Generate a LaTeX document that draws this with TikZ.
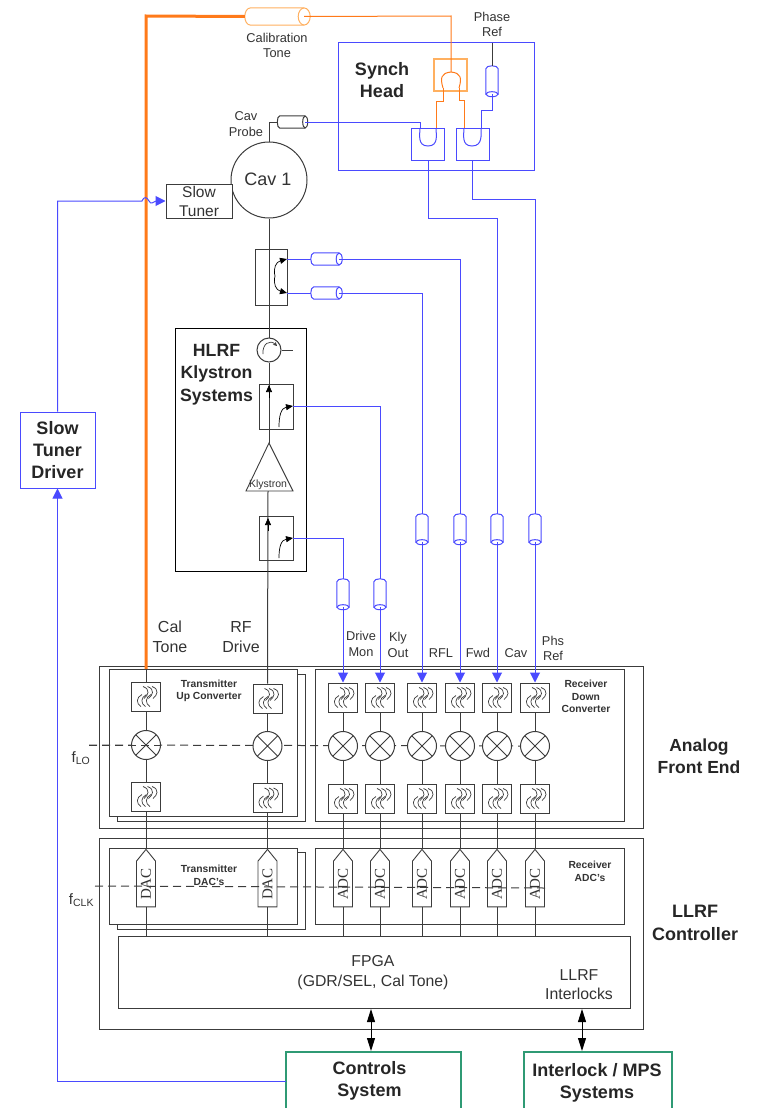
\documentclass[tikz,border=0pt]{standalone}
\usepackage{fontspec}
\setmainfont{Liberation Sans}
\newfontfamily\dacfont{Liberation Serif}
\usetikzlibrary{arrows.meta,shapes.geometric,shapes.symbols,calc}
\definecolor{ln}{HTML}{3C3C3C}
\definecolor{bl}{HTML}{4A4AFF}
\definecolor{og}{HTML}{FF7A1A}
\definecolor{ogl}{HTML}{FFB060}
\definecolor{tl}{HTML}{2F9A74}
\definecolor{tx}{HTML}{333333}
\tikzset{
  x=1pt,y=-1pt,
  wire/.style={draw=ln,line width=1pt},
  bwire/.style={draw=bl,line width=1pt},
  owire/.style={draw=og,line width=1pt},
  boxg/.style={draw=ln,line width=1pt},
  lab/.style={text=tx,font=\fontsize{12.8}{15}\selectfont,align=center,inner sep=0pt},
  hd/.style={text=black!85,font=\fontsize{18}{22}\bfseries\selectfont,align=center,inner sep=0pt},
  tiny/.style={text=tx,font=\fontsize{10.3}{12.5}\bfseries\selectfont,align=center,inner sep=0pt},
  filt/.style={rectangle,draw=ln,line width=1pt,fill=white,minimum width=29pt,minimum height=29pt,inner sep=0pt,
    path picture={\begin{scope}[shift={(path picture bounding box.center)}]
      \foreach \d in {-3,1.5,6}{\draw[ln,line width=0.7pt] (\d,-10) .. controls (\d+8,-7) and (\d+5,-1) .. (\d+1,2);}
      \foreach \d in {-3,1.5,6}{\draw[ln,line width=0.7pt] (\d-1,-2) .. controls (\d-7,1) and (\d-7,7) .. (\d-2,10);}
    \end{scope}}},
  mixer/.style={circle,draw=ln,line width=1pt,fill=white,minimum size=29pt,inner sep=0pt,
    path picture={\draw[ln,line width=0.9pt] (path picture bounding box.north west)--(path picture bounding box.south east)
      (path picture bounding box.north east)--(path picture bounding box.south west);}},
  conv/.style={signal,signal to=north,signal pointer angle=78,draw=ln,line width=0.9pt,fill=white,minimum width=19pt,minimum height=52pt,inner sep=0pt,text=tx,font=\dacfont\fontsize{15}{15}\selectfont},
  cablebody/.style={rectangle,inner sep=0pt,draw=none},
  tip/.style={-{Triangle[length=7pt,width=6pt]}},
  btip/.style={-{Triangle[length=10pt,width=10pt]}},
  dbl/.style={{Triangle[length=13pt,width=8pt]}-{Triangle[length=13pt,width=8pt]}},
}
% horizontal cable: name, centre x, y, length, height, end radius, colour
\newcommand{\hcab}[7]{%
  \node[cablebody,minimum width=#4pt,minimum height=#5pt] (#1) at (#2,#3) {};
  \coordinate (#1-in) at ($(#1.west)+(-#6,0)$);
  \coordinate (#1-out) at (#1.east);
  \draw[draw=#7,fill=white,line width=1pt] (#1.north east)--(#1.north west) .. controls +(-1.33*#6,0) and +(-1.33*#6,0) .. (#1.south west)--(#1.south east);
  \draw[draw=#7,fill=white,line width=1pt] (#1.east) ellipse [x radius=#6,y radius=#5/2];
}
% vertical cable: name, x, centre y, colour
\newcommand{\vcab}[4]{%
  \node[cablebody,minimum width=12pt,minimum height=25pt] (#1) at (#2,#3) {};
  \coordinate (#1-in) at ($(#1.north)+(0,-3)$);
  \coordinate (#1-out) at (#1.south);
  \draw[draw=#4,fill=white,line width=1pt] (#1.north west)--(#1.south west)--(#1.south east)--(#1.north east) .. controls +(0,-4) and +(0,-4) .. (#1.north west);
  \draw[draw=#4,fill=white,line width=1pt] (#1.south) ellipse [x radius=6,y radius=2.5];
}
\begin{document}
\begin{tikzpicture}
\useasboundingbox (0,0) rectangle (759,1108);
% ---- containers
\node[boxg,rectangle,minimum width=544pt,minimum height=162pt,inner sep=0pt] (afe) at (371,747) {};
\node[boxg,rectangle,minimum width=544pt,minimum height=191pt,inner sep=0pt] (llrf) at (371,933.5) {};
\node[boxg,fill=white,rectangle,minimum width=188pt,minimum height=147pt,inner sep=0pt] (txb) at (211,747.5) {};
\node[boxg,fill=white,rectangle,minimum width=188pt,minimum height=147pt,inner sep=0pt] (txf) at (203,742.5) {};
\node[boxg,rectangle,minimum width=309pt,minimum height=152pt,inner sep=0pt] (rxf) at (469.5,745) {};
\node[boxg,fill=white,rectangle,minimum width=188pt,minimum height=77pt,inner sep=0pt] (dacb) at (211,890.5) {};
\node[boxg,fill=white,rectangle,minimum width=188pt,minimum height=76pt,inner sep=0pt] (dacf) at (203,886) {};
\node[boxg,rectangle,minimum width=309pt,minimum height=76pt,inner sep=0pt] (adcf) at (469.5,886) {};
\node[boxg,rectangle,minimum width=512pt,minimum height=72pt,inner sep=0pt] (fpga) at (374,972) {};
\node[draw=black,line width=0.9pt,rectangle,minimum width=131pt,minimum height=243pt,inner sep=0pt] (hlrf) at (240.5,449.5) {};
\node[draw=bl,line width=1pt,rectangle,minimum width=196pt,minimum height=127pt,inner sep=0pt] (synch) at (436,106.5) {};
% ---- dashed LO and CLK
\coordinate (lo0) at (89,745);
\coordinate (clk0) at (95,886);
\coordinate (clk1) at (545,888);
\coordinate (lo1) at (520,746);
\draw[ln,line width=1pt,dash pattern=on 8pt off 5pt] (lo0)--(lo1);
% ---- front-end columns
\node[filt] (ft1) at (146,696.5) {};
\node[mixer] (mx1) at (146,745) {};
\node[filt] (fb1) at (146,796.5) {};
\node[filt] (ft2) at (267.5,698.5) {};
\node[mixer] (mx2) at (267.5,746) {};
\node[filt] (fb2) at (267.5,798) {};
\node[conv] (d1) at (146,884) {\rotatebox{90}{DAC}};
\node[conv] (d2) at (267.5,884) {\rotatebox{90}{DAC}};
\foreach \i/\xx in {1/343,2/380,3/422,4/460,5/497,6/535}{
  \node[filt] (rt\i) at (\xx,697.5) {};
  \node[mixer] (rm\i) at (\xx,746) {};
  \node[filt] (rb\i) at (\xx,798.5) {};
  \node[conv] (a\i) at (\xx,884) {\rotatebox{90}{ADC}};
  \draw[wire] (rt\i)--(rm\i);
  \draw[wire] (rm\i)--(rb\i);
  \draw[wire] (rb\i)--(a\i.north);
  \draw[wire] (a\i.south)--(\xx,936);
}
\draw[wire] (ft1)--(mx1);
\draw[wire] (mx1)--(fb1);
\draw[wire] (fb1)--(d1.north);
\draw[wire] (d1.south)--(146,936);
\draw[wire] (ft2)--(mx2);
\draw[wire] (mx2)--(fb2);
\draw[wire] (fb2)--(d2.north);
\draw[wire] (d2.south)--(267.5,936);
\draw[ln,line width=1pt,dash pattern=on 8pt off 5pt] (clk0)--(clk1);
\draw[ln,line width=1pt,dash pattern=on 8pt off 5pt] (lo0)--(mx1.east);
% ---- cavity
\node[circle,draw=ln,line width=1pt,minimum size=76pt,inner sep=0pt] (cav) at (269,180) {};
\node[text=tx,font=\fontsize{18}{20}\selectfont,inner sep=0pt] (cavt) at (268,179) {Cav 1};
\node[rectangle,draw=ln,line width=1pt,fill=white,minimum width=66pt,minimum height=34pt,inner sep=0pt,lab,font=\fontsize{15.5}{19}\selectfont] (tuner) at (199,201) {Slow\\Tuner};
\hcab{probe}{292.5}{122}{25}{12}{2.5}{ln}
\coordinate (pb) at (269,122);
\draw[wire] (cav.north)--(pb)--(probe-in);
% ---- main RF line
\node[boxg,rectangle,minimum width=32pt,minimum height=56pt,inner sep=0pt] (dc) at (271,277) {};
\node[circle,draw=ln,line width=1pt,fill=white,minimum size=24pt,inner sep=0pt] (circ) at (269,350) {};
\coordinate (stub) at (293,350);
\node[boxg,rectangle,minimum width=34pt,minimum height=45pt,inner sep=0pt] (c1) at (276,406.5) {};
\node[boxg,rectangle,minimum width=34pt,minimum height=44pt,inner sep=0pt] (c2) at (276,538) {};
\coordinate (kA) at (269,443);
\coordinate (kL) at (246,491);
\coordinate (kR) at (293,491);
\draw[ln,line width=0.9pt] (kA)--(kL)--(kR)--cycle;
\node[text=tx,font=\fontsize{10.5}{11}\selectfont,inner sep=0pt] (kly) at (268,485) {Klystron};
\draw[wire] (cav.south)--(circ.north);
\draw[wire] (circ.south)--(kA);
\draw[wire] (268,491)--(ft2.north);
\draw[wire] (circ.east)--(stub);
\draw[ln,line width=0.7pt,-{Stealth[length=4pt,width=4pt]}] (263,354) .. controls (262,344) and (270,339) .. (277,346);
% coupler details
\coordinate (dcA) at (287,259);
\coordinate (dcB) at (287,293);
\coordinate (c1o) at (293,406);
\coordinate (c2o) at (293,538);
\draw[black,line width=0.7pt,tip] (275,276) .. controls (273,268) and (276,262) .. (dcA);
\draw[black,line width=0.7pt,tip] (275,276) .. controls (273,284) and (276,290) .. (dcB);
\draw[black,line width=0.7pt,tip] (279,427) .. controls (279,416) and (281,408) .. (c1o);
\draw[black,line width=0.7pt,tip] (279,558) .. controls (279,547) and (281,540) .. (c2o);
\draw[black,line width=0.7pt,tip] (269,398)--(269,385);
\draw[black,line width=0.7pt,tip] (268,531)--(268,518);
% ---- cables
\hcab{cal}{277.5}{16.5}{53}{17}{6}{ogl}
\hcab{cA}{326.5}{259}{25}{12}{3}{bl}
\hcab{cB}{326.5}{293}{25}{12}{3}{bl}
\vcab{vPhase}{492}{81.5}{bl}
\vcab{vDrive}{343}{594.5}{bl}
\vcab{vKly}{380}{594.5}{bl}
\vcab{vRfl}{422}{529.5}{bl}
\vcab{vFwd}{460}{529.5}{bl}
\vcab{vCav}{497}{529.5}{bl}
\vcab{vPhs}{535}{529.5}{bl}
% ---- synch head mixers
\node[draw=ogl,line width=1.1pt,rectangle,minimum width=33pt,minimum height=32pt,inner sep=0pt] (mO) at (450.5,75) {};
\node[draw=bl,line width=1pt,rectangle,minimum width=33pt,minimum height=32pt,inner sep=0pt] (mL) at (428,144) {};
\node[draw=bl,line width=1pt,rectangle,minimum width=33pt,minimum height=32pt,inner sep=0pt] (mR) at (472.5,144) {};
\coordinate (calTop) at (451,16);
\coordinate (oTop) at (451,72);
\draw[owire] (cal-out)--(calTop)--(oTop);
\draw[owire] (443,88) .. controls (440,78) and (441,73) .. (oTop) .. controls (461,73) and (462,78) .. (459,88);
\draw[owire] (443,88)--(443,101)--(436,101)--(436,128);
\draw[owire] (459,88)--(459,100)--(464,100)--(464,128);
\draw[bwire] (420,128) .. controls (420,134) and (417,146) .. (428,146) .. controls (439,146) and (436,134) .. (436,128);
\draw[bwire] (464,128) .. controls (464,134) and (461,146) .. (472,146) .. controls (483,146) and (481,134) .. (481,128);
\draw[bwire] (probe-out)--(420,122)--(420,128);
\coordinate (phaseTop) at (492,43);
\draw[wire] (phaseTop)--(vPhase-in);
\draw[bwire] (vPhase-out)--(492,110)--(481,110)--(481,128);
% ---- orange cal tone
\coordinate (orCorner) at (146,16);
\coordinate (orEnd) at (146,669);
\draw[draw=og,line width=3pt] (cal-in)--(orCorner)--(orEnd);
\draw[wire] (orEnd)--(ft1.north);
% ---- blue monitor lines
\draw[bwire] (cA-out)--(460,259)--(vFwd-in);
\draw[bwire] (cB-out)--(422,293)--(vRfl-in);
\draw[bwire] (dcA)--(cA-in);
\draw[bwire] (dcB)--(cB-in);
\draw[bwire] (c1o)--(380,406)--(vKly-in);
\draw[bwire] (c2o)--(343,538)--(vDrive-in);
\draw[bwire] (428,160)--(428,218)--(497,218)--(vCav-in);
\draw[bwire] (472,160)--(472,199)--(535,199)--(vPhs-in);
\draw[bwire,btip] (vDrive-out)--(rt1.north);
\draw[bwire,btip] (vKly-out)--(rt2.north);
\draw[bwire,btip] (vRfl-out)--(rt3.north);
\draw[bwire,btip] (vFwd-out)--(rt4.north);
\draw[bwire,btip] (vCav-out)--(rt5.north);
\draw[bwire,btip] (vPhs-out)--(rt6.north);
% ---- slow tuner driver
\node[draw=bl,line width=1pt,rectangle,minimum width=75pt,minimum height=76pt,inner sep=0pt,text=black!85,font=\fontsize{18}{22}\bfseries\selectfont,align=center] (drv) at (57.5,450) {Slow\\Tuner\\Driver};
\coordinate (wig) at (142,201);
\draw[bwire,btip] (drv.north)--(57.5,201)--(wig) .. controls (144,196) and (147,197) .. (149,201) .. controls (151,205) and (153,202) .. (156,201) -- (tuner.west);
% ---- bottom systems
\node[rectangle,minimum width=175pt,minimum height=56pt,inner sep=0pt] (ctl) at (373.5,1080) {};
\node[rectangle,minimum width=148pt,minimum height=56pt,inner sep=0pt] (mps) at (598,1080) {};
\node[hd] (tCs) at (369.5,1081) {Controls\\System};
\node[hd] (tMs) at (597,1083) {Interlock / MPS\\Systems};
\draw[tl,line width=2.4pt] (ctl.south west)--(ctl.north west)--(ctl.north east)--(ctl.south east);
\draw[tl,line width=2.4pt] (mps.south west)--(mps.north west)--(mps.north east)--(mps.south east);
\draw[bwire,btip] (ctl.west |- 0,1081)--(57.5,1081)--(drv.south);
\draw[black,line width=0.9pt,dbl] (371,1051)--(371,1009);
\draw[black,line width=0.9pt,dbl] (582,1051)--(582,1009);
% ---- labels
\node[lab] (tCal) at (277,45.5) {Calibration\\Tone};
\node[lab] (tPh) at (492,24.5) {Phase\\Ref};
\node[hd] (tSy) at (382,80) {Synch\\Head};
\node[lab,font=\fontsize{12.8}{16}\selectfont] (tPr) at (246,124) {Cav\\Probe};
\node[hd,font=\fontsize{17.7}{22.5}\bfseries\selectfont] (tHl) at (216.5,374.5) {HLRF\\Klystron\\Systems};
\node[lab,font=\fontsize{16}{20}\selectfont] (tCt) at (170,637) {Cal\\Tone};
\node[lab,font=\fontsize{16}{20}\selectfont] (tRd) at (241,637) {RF\\Drive};
\node[lab,font=\fontsize{12.8}{16}\selectfont] (tDm) at (361,644) {Drive\\Mon};
\node[lab,font=\fontsize{12.8}{16}\selectfont] (tKo) at (398,645) {Kly\\Out};
\node[lab] (tRf) at (441,653) {RFL};
\node[lab] (tFw) at (478,653) {Fwd};
\node[lab] (tCv) at (516,653) {Cav};
\node[lab] (tPr2) at (553,648.5) {Phs\\Ref};
\node[hd,font=\fontsize{17.5}{22}\bfseries\selectfont] (tAf) at (699,756) {Analog\\Front End};
\node[hd,font=\fontsize{18}{23}\bfseries\selectfont] (tLl) at (695,922.5) {LLRF\\Controller};
\node[tiny] (tTu) at (209,691) {Transmitter\\Up Converter};
\node[tiny] (tRd2) at (586,696.5) {Receiver\\Down\\Converter};
\node[tiny] (tTd) at (209,875.5) {Transmitter\\DAC's};
\node[tiny] (tRa) at (590,871.5) {Receiver\\ADC's};
\node[lab,font=\fontsize{15.8}{20}\selectfont] (tFp) at (373,973) {FPGA\\(GDR/SEL, Cal Tone)};
\node[lab,font=\fontsize{15.8}{19}\selectfont] (tLi) at (579,984.5) {LLRF\\Interlocks};
\node[text=tx,font=\fontsize{15}{15}\selectfont,inner sep=0pt] (tLo) at (81,758) {f\textsubscript{LO}};
\node[text=tx,font=\fontsize{15}{15}\selectfont,inner sep=0pt] (tCk) at (81.5,900) {f\textsubscript{CLK}};
\end{tikzpicture}
\end{document}
